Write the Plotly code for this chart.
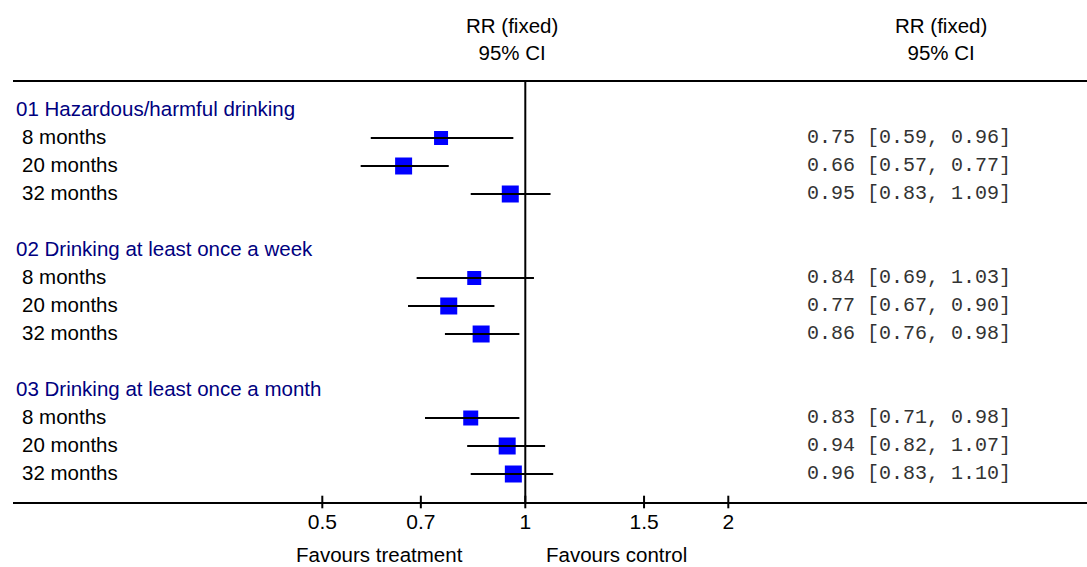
import math
import plotly.graph_objects as go

# ---- data ----
groups = ["01 Hazardous/harmful drinking",
          "02 Drinking at least once a week",
          "03 Drinking at least once a month"]
timepoints = ["8 months", "20 months", "32 months"]
rr = [[0.75, 0.66, 0.95], [0.84, 0.77, 0.86], [0.83, 0.94, 0.96]]
ci_low = [[0.59, 0.57, 0.83], [0.69, 0.67, 0.76], [0.71, 0.82, 0.83]]
ci_high = [[0.96, 0.77, 1.09], [1.03, 0.90, 0.98], [0.98, 1.07, 1.10]]
weights = [[14, 17, 17], [14, 17, 17], [15, 17, 17]]  # box sizes (study weight)
tick_vals = [0.5, 0.7, 1, 1.5, 2]
tick_text = ["0.5", "0.7", "1", "1.5", "2"]
null_value = 1
header = "RR (fixed)<br>95% CI"
favours_left = "Favours treatment"
favours_right = "Favours control"

# ---- layout helpers ----
W, H = 1087, 567
ML, MR, MT, MB = 13, 0, 82, 65
PW = W - ML - MR
PH = H - MT - MB
FONT = "Arial, Liberation Sans, sans-serif"
MONO = "Courier New, Liberation Mono, monospace"
NAVY = "#000080"
FS = 20.5
YS = 2  # small upward nudge for row text


def px(xpix):
    return (xpix - ML) / PW


def py(ypix):
    return (H - MB - ypix) / PH


rows_y, mk_x, mk_s, line_x, line_y = [], [], [], [], []
annotations = []
for g, gname in enumerate(groups):
    base = g * 5
    annotations.append(dict(x=px(14), y=base, xref="paper", yref="y", text=gname,
                            showarrow=False, xanchor="left", yanchor="middle", yshift=YS,
                            font=dict(family=FONT, size=FS, color=NAVY)))
    for i, tp in enumerate(timepoints):
        r = base + 1 + i
        annotations.append(dict(x=px(20), y=r, xref="paper", yref="y", text=tp,
                                showarrow=False, xanchor="left", yanchor="middle", yshift=YS,
                                font=dict(family=FONT, size=FS, color="black")))
        annotations.append(dict(x=px(805), y=r, xref="paper", yref="y",
                                text=f"{rr[g][i]:.2f} [{ci_low[g][i]:.2f}, {ci_high[g][i]:.2f}]",
                                showarrow=False, xanchor="left", yanchor="middle", yshift=1,
                                font=dict(family=MONO, size=20, color="#333333")))
        rows_y.append(r)
        mk_x.append(rr[g][i])
        mk_s.append(weights[g][i])
        line_x += [ci_low[g][i], ci_high[g][i], None]
        line_y += [r, r, None]

axis_row = 14
top_row = -1

for xc in (512, 941):
    annotations.append(dict(x=px(xc), y=py(39), xref="paper", yref="paper", text=header,
                            showarrow=False, xanchor="center", yanchor="middle",
                            font=dict(family=FONT, size=FS, color="black")))
annotations.append(dict(x=px(379), y=py(568), xref="paper", yref="paper", text=favours_left,
                        showarrow=False, xanchor="center", yanchor="bottom",
                        font=dict(family=FONT, size=FS, color="black")))
annotations.append(dict(x=px(616), y=py(568), xref="paper", yref="paper", text=favours_right,
                        showarrow=False, xanchor="center", yanchor="bottom",
                        font=dict(family=FONT, size=FS, color="black")))

fig = go.Figure()
fig.add_trace(go.Scatter(x=mk_x, y=rows_y, mode="markers",
                         marker=dict(symbol="square", size=mk_s, color="#0000FF",
                                     opacity=1, line=dict(width=0)),
                         hoverinfo="skip"))
fig.add_trace(go.Scatter(x=line_x, y=line_y, mode="lines",
                         line=dict(color="black", width=2), hoverinfo="skip"))
fig.add_trace(go.Scatter(x=[null_value, null_value], y=[top_row, axis_row], mode="lines",
                         line=dict(color="black", width=2), hoverinfo="skip"))
fig.add_trace(go.Scatter(x=tick_vals, y=[axis_row] * len(tick_vals), mode="markers",
                         marker=dict(symbol="line-ns", size=9, opacity=1,
                                     line=dict(color="black", width=2)),
                         cliponaxis=False, hoverinfo="skip"))

px_per_dec = (728.3 - 322.3) / math.log10(4)
x_at_one = 525.3
xr = [(ML - x_at_one) / px_per_dec, (W - MR - x_at_one) / px_per_dec]

fig.update_layout(
    width=W, height=H,
    margin=dict(l=ML, r=MR, t=MT, b=MB, autoexpand=False),
    paper_bgcolor="white", plot_bgcolor="white",
    showlegend=False,
    annotations=annotations,
    xaxis=dict(type="log", range=xr, tickvals=tick_vals, ticktext=tick_text,
               ticks="", showgrid=False, zeroline=False,
               showline=True, linecolor="black", linewidth=2, mirror=True,
               tickfont=dict(family=FONT, size=21, color="black")),
    yaxis=dict(range=[axis_row, top_row], visible=False, showgrid=False,
               zeroline=False),
)

fig.write_html("out.html", config={"displayModeBar": False},
               post_script="document.body.style.margin='0';document.body.style.overflow='hidden';")
